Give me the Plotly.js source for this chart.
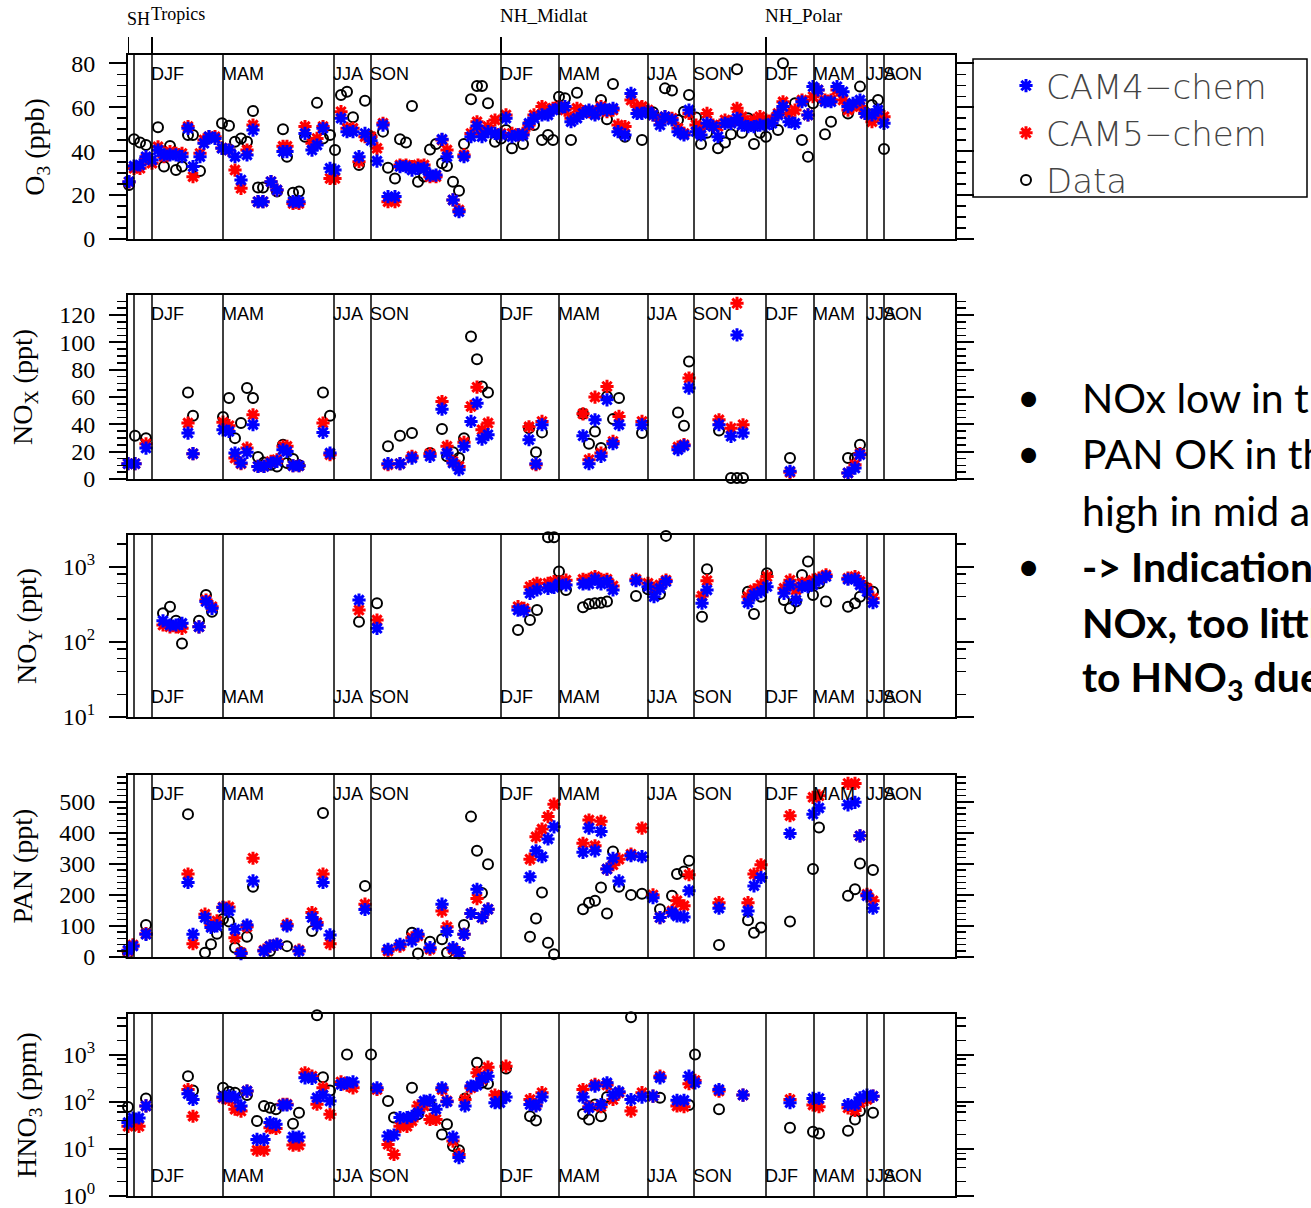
<!DOCTYPE html>
<html><head><meta charset="utf-8">
<script src="https://cdn.plot.ly/plotly-3.0.1.min.js"></script>
<style>html,body{margin:0;padding:0;background:#fff}#chart{width:1311px;height:1208px}</style>
</head><body><div id="chart"></div>
<script>
// ---------------- DATA ----------------
const seasonBounds = [6, 24, 95, 206, 243, 373, 431, 520, 566, 638, 686, 739, 756];
const seasonLabelPos = [24, 95, 206, 243, 373, 431, 520, 566, 638, 686, 739, 756];
const seasonLabels = ['DJF','MAM','JJA','SON','DJF','MAM','JJA','SON','DJF','MAM','JJA','SON'];
const regionPos = [0, 24, 373, 638];
const regionLabels = ['SH','Tropics','NH_Midlat','NH_Polar'];
const seriesNames = ['CAM4\u2212chem','CAM5\u2212chem','Data'];

// O3 (ppb)
const o3Pos = [1,6,12,18,24,30,36,42,48,54, 60,65,72,76,81,87,94,101,107,113, 119,125,130,135,143,149,155,159,165,171, 177,184,189,195,202,207,213,219,225,231, 237,243,249,255,260,267,272,278,284,290, 296,302,308,314,319,325,331,336,343,349, 354,360,367,373,378,384,390,395,401,406, 414,420,425,431,437,443,449,455,461,467, 473,479,485,490,497,503,509,514,520,525, 532,537,544,550,556,561,568,573,579,585, 590,597,603,609,614,620,626,632,638,644, 650,655,661,667,674,680,685,690,697,703, 709,715,720,725,732,737,744,750,756];
const o3Obs = [24.6,45.4,43.9,42.8,null,50.9,33.0,42.4,31.4,33.0, 47.4,47.4,31.0,null,null,null,52.7,51.6,44.3,45.8, 44.3,58.3,23.5,23.5,null,21.6,50.0,37.5,21.1,21.6, 46.6,null,62.0,45.8,47.4,40.5,65.6,67.1,55.4,33.7, 63.0,46.6,null,48.9,32.5,27.6,45.4,43.9,60.6,26.1, 28.5,40.8,43.3,34.5,33.2,26.1,22.0,43.3,63.6,69.7, 69.7,61.8,44.3,45.8,49.6,41.3,null,43.3,null,51.9, 45.1,47.4,45.1,64.8,64.1,45.1,66.6,null,null,null, 63.3,54.5,70.6,null,46.6,null,null,45.1,null,57.7, null,68.6,67.6,54.2,58.0,65.6,55.3,43.3,48.4,null, 41.3,43.9,47.7,77.3,48.4,55.0,43.3,48.4,46.6,null, 49.6,80.0,null,61.8,45.1,37.5,61.8,null,47.7,53.4, null,null,57.2,null,69.4,null,61.0,63.3,41.0];
const o3Cam4 = [26.1,33.2,33.7,37.5,36.0,40.5,38.3,38.3,38.3,37.5, 50.4,33.0,37.5,43.6,46.6,45.8,41.3,40.5,37.5,26.9, 38.3,49.6,17.0,17.0,26.1,22.3,39.8,39.8,17.0,17.0, 48.1,40.5,42.8,50.4,32.2,31.4,55.0,48.9,48.9,37.5, 48.1,44.8,35.5,51.9,19.3,19.3,33.0,33.0,31.4,32.2, 32.2,29.1,29.1,45.4,37.5,17.8,12.4,37.5,46.6,51.5, 46.6,48.9,48.1,47.4,55.0,46.6,47.4,47.4,52.7,55.0, 56.5,56.5,58.7,59.5,60.3,53.4,55.0,57.2,58.7,56.5, 59.5,58.7,59.5,48.9,47.4,66.3,57.2,57.2,58.0,56.5, 51.9,55.7,54.2,48.9,47.4,58.7,48.9,47.4,52.7,51.2, 46.6,52.7,52.7,55.0,51.9,51.2,51.2,51.9,51.9,52.7, 56.5,60.3,53.4,52.7,62.5,56.5,69.4,67.9,62.5,62.5, 69.4,67.1,60.3,61.8,63.3,57.2,56.5,58.7,52.7];
const o3Cam5 = [26.0,32.2,32.2,36.7,34.5,42.0,37.5,39.8,39.0,39.0, 51.2,28.4,39.0,45.1,46.6,46.6,41.5,40.5,31.4,23.1, 40.5,51.9,17.0,17.0,26.1,22.3,42.2,42.2,16.2,16.2, 51.2,43.6,45.8,51.2,27.6,27.6,58.0,50.4,50.4,35.2, 46.6,46.6,41.3,52.7,17.0,17.0,33.7,33.7,33.0,33.7, 33.7,28.4,28.4,45.1,40.5,17.8,13.2,38.3,48.1,53.4, 48.9,51.2,54.2,48.1,56.5,48.1,47.4,48.1,51.9,56.5, 60.3,58.7,59.5,60.3,58.7,55.0,59.5,58.0,58.0,57.2, 60.3,58.0,58.7,51.9,51.2,63.3,60.3,60.3,58.7,56.5, 54.2,55.7,55.0,50.4,48.1,57.2,51.9,50.4,57.2,51.9, 51.2,54.2,53.4,59.5,55.7,53.4,54.2,55.7,54.2,54.2, 57.2,62.5,57.2,58.7,63.3,56.5,64.8,67.9,63.3,63.3, 67.9,63.3,58.7,60.3,60.3,57.2,53.4,56.5,55.7];

// NOx (ppt)
const noxPos = [0,7,18,60,65,95,101,107,113,119, 125,130,136,143,149,155,159,165,171,195, 202,260,272,284,302,314,319,325,331,336, 343,349,354,360,401,408,414,455,461,467, 473,479,485,491,514,550,556,561,591,603, 609,615,662,720,727,732];
const noxObs = [null,31.6,29.9,63.3,46.2,45.3,59.2,29.9,40.9,66.5, 59.2,16.1,12.0,10.5,9.2,25.1,11.7,14.6,10.0,63.3, 46.2,23.9,31.6,33.6,19.0,36.5,16.6,19.5,15.3,29.9, 104.2,87.6,67.7,63.3,37.2,19.5,34.1,47.7,25.8,34.8, 22.6,60.4,43.8,59.2,33.6,48.7,39.0,85.9,35.5,0.7, 0.7,0.7,15.3,15.3,15.3,25.1];
const noxCam4 = [11.2,11.2,22.6,33.6,18.5,36.0,34.8,19.0,11.7,19.5, 39.7,9.2,9.2,11.7,12.9,21.4,20.2,9.7,9.7,34.1, 19.0,11.2,11.2,15.3,16.6,51.1,19.0,11.7,6.8,23.9, 42.1,55.5,29.2,32.4,28.7,11.2,39.7,31.6,11.2,43.3, 16.6,57.9,25.8,39.7,39.7,21.4,24.3,66.5,39.7,31.2, 105.4,33.6,5.6,4.4,8.0,17.8];
const noxCam5 = [11.2,11.2,25.8,40.9,18.5,41.6,39.0,15.3,11.2,22.6, 47.0,9.2,9.2,12.9,14.1,23.9,23.9,9.7,9.7,40.9, 17.8,10.5,11.2,16.6,18.5,56.7,23.9,12.9,9.2,26.8, 53.1,67.2,36.0,40.9,38.2,10.5,42.1,47.7,14.1,59.9, 19.0,67.7,27.5,45.8,42.1,23.4,25.1,73.8,43.3,37.2, 128.5,39.7,4.9,4.4,10.5,18.5];

// NOy (ppt)
const noyPos = [35,42,48,54,71,78,84,231,249,390, 396,402,409,420,426,431,438,455,461,467, 473,479,485,508,520,526,532,538,574,579, 620,626,633,639,656,662,668,674,680,685, 691,698,720,727,732,739,745];
const noyObs = [239,293,190,95,190,419,251,185,325,143, null,194,264,2460,2460,858,489,287,318,325, 331,342,null,406,499,null,432,2560,215,921, 464,234,398,815,359,278,342,774,1166,419, 600,342,293,325,398,514,464];
const noyCam4 = [190,167,167,176,158,342,278,359,151,264, 258,441,489,514,530,588,570,588,588,678, 588,631,489,650,541,398,514,631,325,489, 331,419,464,541,441,570,359,541,541,570, 660,736,678,678,570,464,331];
const noyCam5 = [167,158,158,151,158,359,293,264,194,293, 278,541,600,600,631,631,660,678,678,736, 678,678,552,678,600,514,570,660,406,650, 398,489,570,736,514,660,489,600,600,660, 700,774,700,736,631,514,380];

// PAN (ppt)
const panPos = [0,5,18,60,65,77,83,89,95,101, 107,113,119,125,136,142,149,159,171,184, 189,195,202,237,260,272,284,290,302,314, 319,325,331,336,343,349,354,360,402,408, 414,420,426,455,461,467,473,479,485,491, 503,514,525,532,544,549,556,561,591,620, 626,633,662,685,691,720,727,732,739,745];
const panObs = [12.9,null,103,460,null,14,41,75,122,114, 30,14,65,226,null,19,null,35,null,84, null,464,null,229,null,null,78,11,49,57, 14,null,null,103,452,342,206,299,65,124, 208,46,9,154,175,181,224,140,340,226, 200,204,null,154,197,267,275,310,39,118, 78,95,114,283,417,197,218,301,null,280];
const panCam4 = [22,35,73,240,73,127,95,100,159,148, 89,11,103,245,19,35,41,100,19,127, 103,240,71,153,25,41,52,73,30,170, 82,30,14,73,140,218,127,154,258,342, 323,380,419,337,415,342,404,283,318,245, 326,323,191,127,143,132,129,213,157,148, 229,256,398,460,480,490,498,390,197,157];
const panCam5 = [19,39,75,267,43,138,103,116,161,161, 62,14,97,318,22,35,41,105,22,143, 111,267,43,170,19,35,62,68,25,148, 97,25,14,73,140,188,127,154,315,387, 412,452,492,366,441,358,437,283,297,315, 331,415,200,127,148,181,165,265,175,175, 267,297,455,514,519,559,559,390,202,181];

// HNO3 (ppm)
const hnoPos = [0,5,11,18,60,65,95,101,107,113, 119,129,136,142,148,155,159,165,171,177, 184,189,195,202,213,219,225,243,249,260, 266,272,279,284,290,296,302,308,314,319, 325,331,337,343,349,354,360,367,372,378, 402,408,414,455,461,467,473,479,485,491, 503,514,525,532,549,556,561,567,591,615, 662,685,691,720,727,732,739,745];
const hnoObs = [77,null,null,117,348,173,197,162,155,null, 138,39,81,74,69,null,null,34,58,null, 7260,6800,331,173,null,1000,null,1000,null,103, 46,null,null,197,54,null,85,null,20,33, 11.5,9.3,117,null,667,251,240,null,131,506, 49,40,null,55,42,87,49,125,null,null, 6160,null,null,121,null,null,85,1000,69,null, 28,23,21,24,42,63,null,58];
const hnoCam4 = [36,45,45,81,147,111,125,133,124,81, 168,15.8,15.8,36,33,85,85,17.8,17.8,321, 311,121,138,103,232,251,262,null,197,18.7, 19.6,46,46,49,58,103,107,69,197,100, 17.8,6.5,81,214,223,310,348,95,95,125, 87,81,125,125,74,214,87,251,138,162, 111,125,131,321,107,107,348,251,181,138, 95,117,117,87,87,121,138,131];
const hnoCam5 = [30,36,30,81,181,49,121,111,69,63, 168,9.3,9.3,28,27,88,88,12,12,410, 348,88,197,54,262,225,197,null,181,12.4, 7.6,30,30,39,81,81,42,42,181,103, 14.6,7.6,111,197,410,296,540,138,125,566, 111,85,155,181,78,232,78,225,111,155, 63,155,131,348,81,78,240,282,168,138, 111,85,78,74,65,95,111,131];

const bulletLines = [
  {text:'NOx low in the tropics', bullet:true, bold:false},
  {text:'PAN OK in the tropics, too', bullet:true, bold:false},
  {text:'high in mid and high latitudes', bullet:false, bold:false},
  {text:'-> Indication of too much', bullet:true, bold:true},
  {text:'NOx, too little conversion', bullet:false, bold:true},
  {text:'to HNO<sub>3</sub> due to', bullet:false, bold:true}
];

// ---------------- LAYOUT ----------------
const W = 1311, H = 1208;
const plotLeft = 128, plotRight = 955;
const xRange = [0, 827];
const panels = [
  {title:'O<sub>3</sub> (ppb)', top:55, bottom:239, type:'linear', range:[0,83.8], dtick:20, minor:5, pos:o3Pos, obs:o3Obs, c4:o3Cam4, c5:o3Cam5, labelsTop:true},
  {title:'NO<sub>X</sub> (ppt)', top:295, bottom:479, type:'linear', range:[0,134.6], dtick:20, minor:5, pos:noxPos, obs:noxObs, c4:noxCam4, c5:noxCam5, labelsTop:true},
  {title:'NO<sub>Y</sub> (ppt)', top:535, bottom:717, type:'log', range:[0.999,3.42], pos:noyPos, obs:noyObs, c4:noyCam4, c5:noyCam5, labelsTop:false},
  {title:'PAN (ppt)', top:775, bottom:957, type:'linear', range:[0,586], dtick:100, minor:20, pos:panPos, obs:panObs, c4:panCam4, c5:panCam5, labelsTop:true},
  {title:'HNO<sub>3</sub> (ppm)', top:1014, bottom:1196, type:'log', range:[-0.002,3.86], pos:hnoPos, obs:hnoObs, c4:hnoCam4, c5:hnoCam5, labelsTop:false}
];

const px = v => v / W;
const py = v => 1 - v / H;

const traces = [];
const layout = {
  width: W, height: H,
  margin: {l:0, r:0, t:0, b:0},
  paper_bgcolor: '#fff', plot_bgcolor: '#fff',
  showlegend: true,
  legend: {
    x: px(988), xanchor: 'left', y: py(57), yanchor: 'top',
    traceorder: 'reversed', bgcolor: 'rgba(0,0,0,0)', borderwidth: 0,
    font: {family: 'DejaVu Sans', size: 34, color: '#444', weight: 200},
    indentation: 18, itemsizing: 'trace'
  },
  shapes: [], annotations: []
};

const serifFont = 'Liberation Serif, Times New Roman, serif';

panels.forEach((p, i) => {
  const n = i === 0 ? '' : String(i + 1);
  const xa = 'x' + n, ya = 'y' + n;

  traces.push({type:'scatter', mode:'markers', x:p.pos, y:p.obs, xaxis:xa, yaxis:ya,
    name:seriesNames[2], legendgroup:'data', showlegend:i === 0, cliponaxis:false,
    marker:{symbol:'circle-open', size:10, color:'black', line:{width:2, color:'black'}}});
  traces.push({type:'scatter', mode:'markers', x:p.pos, y:p.c5, xaxis:xa, yaxis:ya,
    name:seriesNames[1], legendgroup:'cam5', showlegend:i === 0, cliponaxis:false,
    marker:{symbol:'asterisk-open', size:11, color:'#ff0000', line:{width:3, color:'#ff0000'}}});
  traces.push({type:'scatter', mode:'markers', x:p.pos, y:p.c4, xaxis:xa, yaxis:ya,
    name:seriesNames[0], legendgroup:'cam4', showlegend:i === 0, cliponaxis:false,
    marker:{symbol:'asterisk-open', size:11, color:'#0000ff', line:{width:3, color:'#0000ff'}}});

  layout['xaxis' + n] = {
    domain:[px(plotLeft), px(plotRight)], range:xRange, anchor:ya,
    showline:true, mirror:true, linecolor:'black', linewidth:2,
    ticks:'', showticklabels:false, showgrid:false, zeroline:false, fixedrange:true
  };

  const yax = {
    domain:[py(p.bottom), py(p.top)], range:p.range, type:p.type, anchor:xa,
    showline:true, mirror:'allticks', linecolor:'black', linewidth:2,
    ticks:'outside', ticklen:17, tickwidth:2, tickcolor:'black',
    ticklabelstandoff: 9, ticklabeloverflow: 'allow',
    tickfont:{family:serifFont, size:24, color:'black'},
    showgrid:false, zeroline:false, fixedrange:true,
    title:{text:p.title, font:{family:serifFont, size:28, color:'black'}, standoff:18}
  };
  if (p.type === 'log') {
    const decades = [];
    const minorVals = [];
    for (let d = Math.round(p.range[0]); d <= Math.floor(p.range[1]); d++) decades.push(d);
    for (let d = Math.floor(p.range[0]); d <= Math.ceil(p.range[1]); d++) {
      [2,4,6,8].forEach(m => { const v = m * Math.pow(10, d); const lv = Math.log10(v); if (lv > p.range[0] && lv < p.range[1]) minorVals.push(v); });
    }
    yax.tickmode = 'array';
    yax.tickvals = decades.map(d => Math.pow(10, d));
    yax.ticktext = decades.map(d => '10<sup>' + d + '</sup>');
    yax.minor = {tickmode:'array', tickvals:minorVals, ticks:'outside', ticklen:9, tickwidth:1.5, tickcolor:'black'};
  } else {
    yax.tickmode = 'linear'; yax.tick0 = 0; yax.dtick = p.dtick;
    yax.minor = {dtick:p.minor, tick0:0, ticks:'outside', ticklen:9, tickwidth:1.5, tickcolor:'black'};
  }
  layout['yaxis' + n] = yax;

  seasonBounds.forEach(b => {
    layout.shapes.push({type:'line', xref:xa, yref:ya + ' domain', x0:b, x1:b, y0:0, y1:1,
      line:{color:'black', width:1.5}});
  });
  seasonLabelPos.forEach((b, k) => {
    layout.annotations.push({xref:xa, yref:ya + ' domain', x:b, y:p.labelsTop ? 1 : 0,
      xanchor:'left', yanchor:p.labelsTop ? 'top' : 'bottom', xshift:-3, yshift:p.labelsTop ? -7 : 8,
      text:seasonLabels[k], showarrow:false,
      font:{family:'Liberation Sans, Arial, sans-serif', size:18, color:'black'}});
  });
});

// region markers on top
const regionY = [19, 14, 16, 16];
const regionSize = [18, 18, 19, 19];
regionPos.forEach((r, k) => {
  layout.shapes.push({type:'line', xref:'x', yref:'paper', x0:r, x1:r, y0:py(55), y1:py(37),
    line:{color:'black', width:2}});
  layout.annotations.push({xref:'x', yref:'paper', x:r, y:py(regionY[k]), xanchor:'left', yanchor:'middle',
    xshift:-3, text:regionLabels[k], showarrow:false,
    font:{family:serifFont, size:regionSize[k], color:'black'}});
});

// legend box
layout.shapes.push({type:'rect', xref:'paper', yref:'paper', x0:px(973), x1:px(1307), y0:py(59), y1:py(197),
  line:{color:'black', width:1.5}, fillcolor:'rgba(0,0,0,0)'});

// bullet text
const lineY = [397, 453, 510, 566, 622, 679];
bulletLines.forEach((l, k) => {
  if (l.bullet) {
    layout.annotations.push({xref:'paper', yref:'paper', x:px(1028), y:py(lineY[k]), xanchor:'center', yanchor:'middle',
      text:'\u2022', showarrow:false, font:{family:'Lato, sans-serif', size:40, color:'black'}});
  }
  layout.annotations.push({xref:'paper', yref:'paper', x:px(1080), y:py(lineY[k]), xanchor:'left', yanchor:'middle',
    text:l.bold ? '<b>' + l.text + '</b>' : l.text, showarrow:false,
    font:{family:'Lato, sans-serif', size:41, color:'black'}});
});

Plotly.newPlot('chart', traces, layout, {staticPlot:true, displayModeBar:false});
</script>
</body></html>
